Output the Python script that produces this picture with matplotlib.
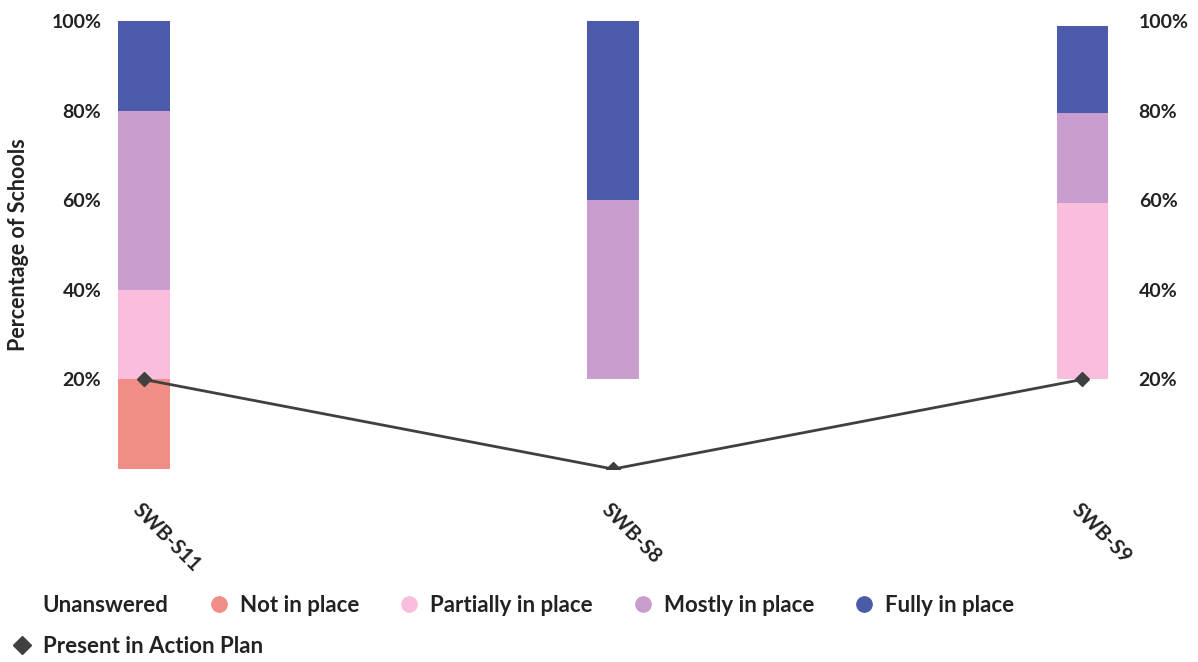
import numpy as np
import matplotlib.pyplot as plt
from matplotlib.lines import Line2D
from matplotlib.transforms import ScaledTranslation

# categories and stacked shares (percent of schools)
categories = ['SWB-S11', 'SWB-S8', 'SWB-S9']
unanswered = [0, 20, 20]
not_in_place = [20, 0, 0]
partially = [20, 0, 39.5]
mostly = [40, 40, 20]
fully = [20, 40, 19.5]
action_plan = [20, 0, 20]

series = [('Unanswered', unanswered, 'none'),
          ('Not in place', not_in_place, '#f08d86'),
          ('Partially in place', partially, '#f8bedb'),
          ('Mostly in place', mostly, '#c99dcd'),
          ('Fully in place', fully, '#4b5aa9')]
yticks = [20, 40, 60, 80, 100]

plt.rcParams['font.family'] = ['Lato', 'DejaVu Sans']
txt = '#222222'

fig = plt.figure(figsize=(11.98, 6.62), dpi=100)
ax = fig.add_axes([0.0985, 0.2915, 0.8265, 0.6765])

x = np.arange(len(categories))
bw = 0.11
bottom = np.zeros(len(categories))
for name, vals, col in series:
    vals = np.array(vals, dtype=float)
    if col != 'none':
        ax.bar(x, vals, bw, bottom=bottom, color=col, linewidth=0)
    bottom += vals

ax.plot(x, action_plan, color='#404040', lw=2, marker='D', ms=7, zorder=5)

ax.set_xlim(-bw / 2, 2 + bw / 2)
ax.set_ylim(0, 100)
ax.set_yticks(yticks)
ax.set_yticklabels([f'{v}%' for v in yticks], fontsize=14, fontweight='bold', color=txt)
ax.set_xticks(x)
ax.set_xticklabels([])
# rotated category labels, shifted to sit below-left of each bar
off = ax.get_xaxis_transform() + ScaledTranslation(-0.15, -0.31, fig.dpi_scale_trans)
for xi, cat in zip(x, categories):
    ax.text(xi, 0, cat, transform=off, rotation=-45, ha='left', va='top',
            fontsize=14.5, fontweight='bold', color=txt)
ax.tick_params(axis='both', length=0, pad=12)
ax.set_ylabel('Percentage of Schools', fontsize=15.5, fontweight='bold', color=txt, labelpad=16)
for s in ax.spines.values():
    s.set_visible(False)

ax2 = ax.twinx()
ax2.set_ylim(0, 100)
ax2.set_yticks(yticks)
ax2.set_yticklabels([f'{v}%' for v in yticks], fontsize=14, fontweight='bold', color=txt)
ax2.tick_params(axis='y', length=0, pad=22)
for s in ax2.spines.values():
    s.set_visible(False)

handles = [Line2D([], [], ls='none', marker='o', ms=11, color=col if col != 'none' else 'white')
           for name, vals, col in series]
labels = [name for name, vals, col in series]
fig.legend(handles, labels, loc='center left', bbox_to_anchor=(-0.008, 0.086), ncol=5,
           frameon=False, prop={'size': 16, 'weight': 'bold'}, handlelength=1.0,
           handletextpad=0.45, columnspacing=1.75, labelcolor=txt)
fig.legend([Line2D([], [], ls='none', marker='D', ms=9, color='#404040')], ['Present in Action Plan'],
           loc='center left', bbox_to_anchor=(-0.008, 0.023), frameon=False,
           prop={'size': 16, 'weight': 'bold'}, handlelength=1.0, handletextpad=0.45,
           labelcolor=txt)

fig.savefig('out.png', dpi=100)
